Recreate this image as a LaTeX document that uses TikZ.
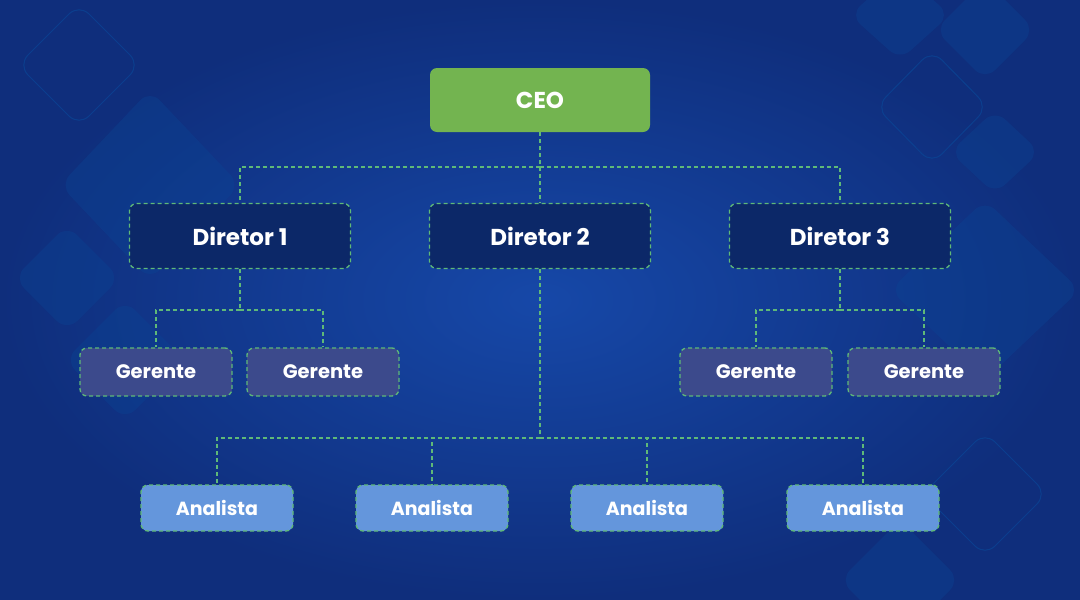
\documentclass[tikz,border=0pt]{standalone}
\usepackage{fontspec}
\setmainfont{Poppins}
\usepackage{tikz}
\definecolor{bgin}{RGB}{22,72,168}
\definecolor{bgout}{RGB}{15,46,124}
\definecolor{deco}{RGB}{10,70,150}
\definecolor{ceogreen}{RGB}{115,180,80}
\definecolor{dirblue}{RGB}{12,40,104}
\definecolor{gerblue}{RGB}{60,74,140}
\definecolor{anblue}{RGB}{100,150,220}
\definecolor{dash}{RGB}{95,185,120}

\tikzset{
	box/.style={rounded corners=7pt,text=white,font=\bfseries,inner sep=0pt},
	dashbox/.style={box,draw=dash,dash pattern=on 4pt off 3pt,line width=1.3pt},
	link/.style={draw=dash,dash pattern=on 4pt off 3pt,line width=1.3pt},
	decofill/.style={fill=deco,opacity=0.35,rounded corners=14pt},
	decoline/.style={draw=deco,line width=1pt,opacity=0.7,rounded corners=14pt}
}

\begin{document}
\begin{tikzpicture}[x=1pt,y=-1pt]
	% background
	\shade[inner color=bgin,outer color=bgout] (0,0) rectangle (1080,600);
	\useasboundingbox (0,0) rectangle (1080,600);

	% decorations
	\begin{scope}
		\clip (0,0) rectangle (1080,600);
		\draw[decoline] (79,4) -- (140,65) -- (79,126) -- (18,65) -- cycle;
		\fill[decofill] (150,90) -- (240,185) -- (150,280) -- (60,185) -- cycle;
		\fill[decofill] (67,225) -- (120,278) -- (67,331) -- (14,278) -- cycle;
		\fill[decofill] (125,300) -- (185,360) -- (125,420) -- (65,360) -- cycle;
		\draw[decoline] (932,50) -- (988,107) -- (932,164) -- (876,107) -- cycle;
		\fill[decofill] (985,-20) -- (1035,30) -- (985,80) -- (935,30) -- cycle;
		\fill[decofill] (900,-30) -- (950,15) -- (900,60) -- (850,15) -- cycle;
		\fill[decofill] (995,110) -- (1040,152) -- (995,194) -- (950,152) -- cycle;
		\fill[decofill] (985,200) -- (1080,290) -- (985,380) -- (890,290) -- cycle;
		\draw[decoline] (985,432) -- (1047,494) -- (985,556) -- (923,494) -- cycle;
		\fill[decofill] (900,520) -- (960,580) -- (900,640) -- (840,580) -- cycle;
	\end{scope}

	% boxes
	\node[box,fill=ceogreen,minimum width=220pt,minimum height=64pt,font=\bfseries\fontsize{23}{26}\selectfont] (ceo) at (540,100) {CEO};

	\node[dashbox,fill=dirblue,minimum width=221pt,minimum height=65pt,font=\bfseries\fontsize{23}{26}\selectfont] (d1) at (240,236) {Diretor 1};
	\node[dashbox,fill=dirblue,minimum width=221pt,minimum height=65pt,font=\bfseries\fontsize{23}{26}\selectfont] (d2) at (540,236) {Diretor 2};
	\node[dashbox,fill=dirblue,minimum width=221pt,minimum height=65pt,font=\bfseries\fontsize{23}{26}\selectfont] (d3) at (840,236) {Diretor 3};

	\node[dashbox,fill=gerblue,minimum width=152pt,minimum height=48pt,font=\bfseries\fontsize{19.5}{22}\selectfont] (g1) at (156,372) {Gerente};
	\node[dashbox,fill=gerblue,minimum width=152pt,minimum height=48pt,font=\bfseries\fontsize{19.5}{22}\selectfont] (g2) at (323,372) {Gerente};
	\node[dashbox,fill=gerblue,minimum width=152pt,minimum height=48pt,font=\bfseries\fontsize{19.5}{22}\selectfont] (g3) at (756,372) {Gerente};
	\node[dashbox,fill=gerblue,minimum width=152pt,minimum height=48pt,font=\bfseries\fontsize{19.5}{22}\selectfont] (g4) at (924,372) {Gerente};

	\node[dashbox,fill=anblue,minimum width=152pt,minimum height=46pt,font=\bfseries\fontsize{19}{22}\selectfont] (a1) at (217,508) {Analista};
	\node[dashbox,fill=anblue,minimum width=152pt,minimum height=46pt,font=\bfseries\fontsize{19}{22}\selectfont] (a2) at (432,508) {Analista};
	\node[dashbox,fill=anblue,minimum width=152pt,minimum height=46pt,font=\bfseries\fontsize{19}{22}\selectfont] (a3) at (647,508) {Analista};
	\node[dashbox,fill=anblue,minimum width=152pt,minimum height=46pt,font=\bfseries\fontsize{19}{22}\selectfont] (a4) at (863,508) {Analista};

	% junctions
	\coordinate (jceo) at (540,167);
	\coordinate (jd1) at (240,310);
	\coordinate (jd2) at (540,438);
	\coordinate (jd3) at (840,310);

	% connectors
	\draw[link] (ceo.south) -- (jceo);
	\foreach \x in {d1,d2,d3}
		\draw[link] (jceo) -| (\x.north);
	\draw[link] (d1.south) -- (jd1);
	\draw[link] (d3.south) -- (jd3);
	\draw[link] (d2.south) -- (jd2);
	\foreach \x/\y in {jd1/g1,jd1/g2,jd3/g3,jd3/g4,jd2/a1,jd2/a2,jd2/a3,jd2/a4}
		\draw[link] (\x) -| (\y.north);
\end{tikzpicture}
\end{document}
